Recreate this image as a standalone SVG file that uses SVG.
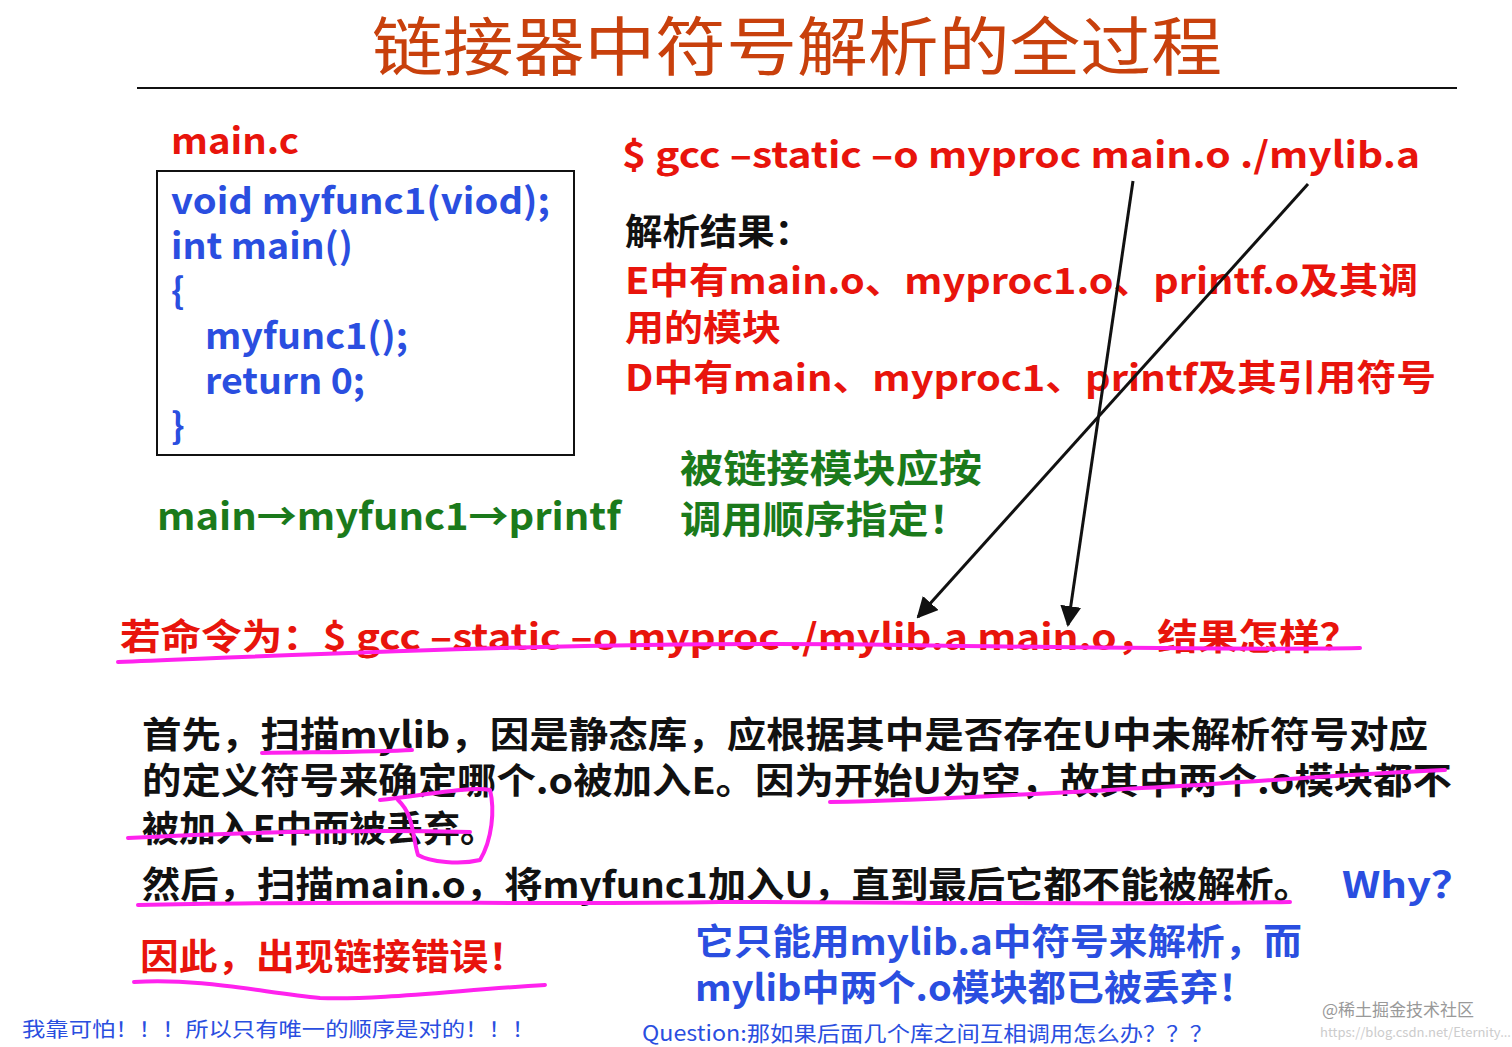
<svg xmlns="http://www.w3.org/2000/svg" width="1512" height="1047" viewBox="0 0 1512 1047">
<style>
text{font-family:"Noto Sans CJK SC","Noto Sans",sans-serif;font-weight:bold}
.r{fill:#e8140c;font-size:36px}
.b{fill:#2a4ee0;font-size:36px}
.k{fill:#111;font-size:36px}
.g{fill:#1b7a1b;font-size:38px}
.hand{fill:none;stroke:#ff22ee;stroke-width:4;stroke-linecap:round;stroke-linejoin:round}
</style>
<defs><marker id="ah" viewBox="0 0 10 10" refX="9" refY="5" markerWidth="7" markerHeight="7" orient="auto"><path d="M0,0L10,5L0,10z" fill="#111"/></marker></defs>
<rect width="1512" height="1047" fill="#fff"/>
<text x="372" y="70" textLength="850" lengthAdjust="spacingAndGlyphs" style="fill:#c8400c;font-size:64px;font-weight:normal">链接器中符号解析的全过程</text>
<line x1="137" y1="88" x2="1457" y2="88" stroke="#111" stroke-width="2"/>
<g id="mainc">
<text x="171" y="154" class="r" textLength="128" lengthAdjust="spacingAndGlyphs">main.c</text>
<rect x="157" y="171" width="417" height="284" fill="none" stroke="#111" stroke-width="2"/>
<text class="b" x="171" y="214" textLength="379" lengthAdjust="spacingAndGlyphs">void myfunc1(viod);</text>
<text class="b" x="171" y="259" textLength="182" lengthAdjust="spacingAndGlyphs">int main()</text>
<text class="b" x="171" y="304">{</text>
<text class="b" x="205" y="349" textLength="203" lengthAdjust="spacingAndGlyphs">myfunc1();</text>
<text class="b" x="205" y="394" textLength="160" lengthAdjust="spacingAndGlyphs">return 0;</text>
<text class="b" x="171" y="439">}</text>
</g>
<g id="cmd">
<text class="r" x="622" y="168" textLength="798" lengthAdjust="spacingAndGlyphs">$ gcc –static –o myproc main.o ./mylib.a</text>
<text class="k" x="625" y="245" textLength="187" lengthAdjust="spacingAndGlyphs">解析结果：</text>
<text class="r" x="625" y="294" textLength="793" lengthAdjust="spacingAndGlyphs">E中有main.o、myproc1.o、printf.o及其调</text>
<text class="r" x="625" y="341" textLength="156" lengthAdjust="spacingAndGlyphs">用的模块</text>
<text class="r" x="625" y="391" textLength="811" lengthAdjust="spacingAndGlyphs">D中有main、myproc1、printf及其引用符号</text>
</g>
<text class="g" x="157" y="530" textLength="464" lengthAdjust="spacingAndGlyphs">main→myfunc1→printf</text>
<text class="g" x="680" y="482" textLength="302" lengthAdjust="spacingAndGlyphs">被链接模块应按</text>
<text class="g" x="680" y="533" textLength="290" lengthAdjust="spacingAndGlyphs">调用顺序指定！</text>
<g id="connectors">
<line x1="1133" y1="181" x2="1068" y2="625" stroke="#111" stroke-width="3" marker-end="url(#ah)"/>
<line x1="1308" y1="184" x2="918" y2="617" stroke="#111" stroke-width="3" marker-end="url(#ah)"/>
</g>
<text class="r" x="120" y="650" textLength="1240" lengthAdjust="spacingAndGlyphs">若命令为：$ gcc –static –o myproc ./mylib.a main.o，结果怎样？</text>
<text class="k" x="142" y="748" textLength="1286" lengthAdjust="spacingAndGlyphs">首先，扫描mylib，因是静态库，应根据其中是否存在U中未解析符号对应</text>
<text class="k" x="142" y="794" textLength="1310" lengthAdjust="spacingAndGlyphs">的定义符号来确定哪个.o被加入E。因为开始U为空，故其中两个.o模块都不</text>
<text class="k" x="142" y="842" textLength="355" lengthAdjust="spacingAndGlyphs">被加入E中而被丢弃。</text>
<text class="k" x="142" y="898" textLength="1170" lengthAdjust="spacingAndGlyphs">然后，扫描main.o，将myfunc1加入U，直到最后它都不能被解析。</text>
<text class="b" x="1342" y="898" textLength="131" lengthAdjust="spacingAndGlyphs">Why？</text>
<text class="r" x="140" y="970" textLength="387" lengthAdjust="spacingAndGlyphs">因此，出现链接错误！</text>
<text class="b" x="695" y="955" textLength="607" lengthAdjust="spacingAndGlyphs">它只能用mylib.a中符号来解析，而</text>
<text class="b" x="695" y="1001" textLength="561" lengthAdjust="spacingAndGlyphs">mylib中两个.o模块都已被丢弃！</text>
<text x="22" y="1037" textLength="513" lengthAdjust="spacingAndGlyphs" style="fill:#2a4ee0;font-size:20px;font-weight:normal">我靠可怕！！！所以只有唯一的顺序是对的！！！</text>
<text x="642" y="1041" textLength="571" lengthAdjust="spacingAndGlyphs" style="fill:#2a4ee0;font-size:21px;font-weight:normal">Question:那如果后面几个库之间互相调用怎么办？？？</text>
<text x="1322" y="1016" style="fill:#999;font-size:17px;font-weight:normal">@稀土掘金技术社区</text>
<text x="1320" y="1037" style="fill:#ccc;font-size:13px;font-weight:normal">https://blog.csdn.net/Eternity...</text>
<g id="hand">
<path class="hand" d="M118,662 C300,655 600,640 900,645 C1100,648 1250,650 1360,648"/>
<path class="hand" d="M262,753 C330,752 380,752 412,750"/>
<path class="hand" d="M380,800 C420,796 470,786 490,790 C495,810 492,840 480,860 C460,865 430,862 418,855 C412,835 414,815 398,800"/>
<path class="hand" d="M830,802 C950,800 1100,790 1200,785 C1300,778 1400,772 1445,770"/>
<path class="hand" d="M128,838 C250,832 380,830 470,832"/>
<path class="hand" d="M138,905 C350,900 550,905 720,902 C900,902 1100,905 1290,902"/>
<path class="hand" d="M134,982 C200,978 260,992 320,998 C380,1000 460,990 545,985"/>
</g>
</svg>
